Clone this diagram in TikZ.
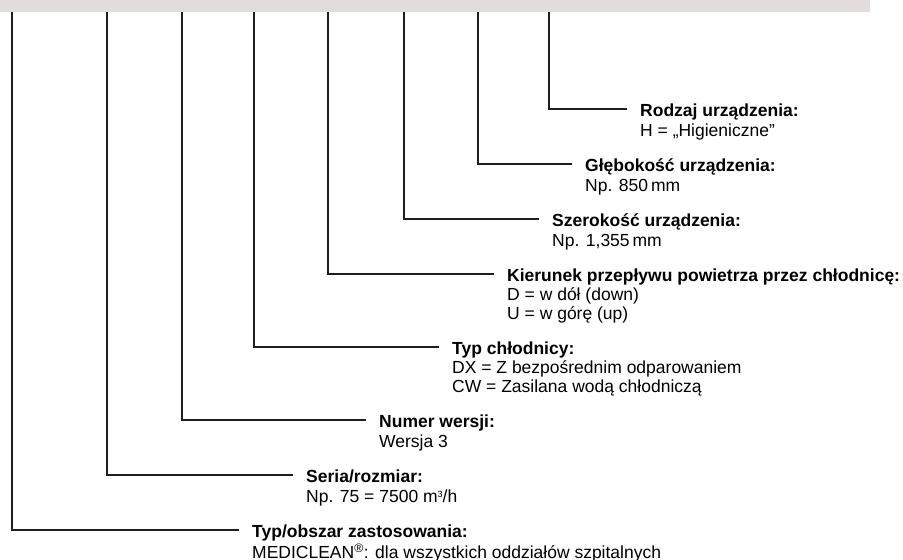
\documentclass[tikz,border=0pt]{standalone}
\usepackage{fontspec}
\setmainfont{Liberation Sans}
\usetikzlibrary{positioning}
\begin{document}
\begin{tikzpicture}[x=1pt,y=-1pt,
	lead/.style={line width=1.4pt, cLead},
	title/.style={anchor=base west, inner sep=0pt, font=\bfseries\fontsize{17.5}{19}\selectfont},
	desc/.style={anchor=north west, inner sep=0pt, align=left, font=\fontsize{17.5}{19}\selectfont,
		execute at begin node=\strut}]
	\definecolor{cBar}{HTML}{E2DDDA}
	\definecolor{cLead}{HTML}{1E1E1E}

	\useasboundingbox (0,0) rectangle (903,560);
	\fill[cBar] (0,0) rectangle (870,12);

	% end points of the leaders
	\coordinate (eRodzaj) at (627,109);
	\coordinate (eGlebokosc) at (572,164);
	\coordinate (eSzerokosc) at (539,219);
	\coordinate (eKierunek) at (494,274);
	\coordinate (eTyp) at (439,347);
	\coordinate (eWersja) at (366,420);
	\coordinate (eSeria) at (293,475);
	\coordinate (eObszar) at (239,530);

	\node[title] (tRodzaj) at ([shift={(13,7)}]eRodzaj) {Rodzaj urządzenia:};
	\node[desc] (dRodzaj) at ([yshift=-6.7pt]tRodzaj.base west) {H = „Higieniczne”};

	\node[title] (tGlebokosc) at ([shift={(13,7)}]eGlebokosc) {Głębokość urządzenia:};
	\node[desc] (dGlebokosc) at ([yshift=-6.7pt]tGlebokosc.base west) {Np. 850\,mm};

	\node[title] (tSzerokosc) at ([shift={(13,7)}]eSzerokosc) {Szerokość urządzenia:};
	\node[desc] (dSzerokosc) at ([yshift=-6.7pt]tSzerokosc.base west) {Np. 1,355\,mm};

	\node[title] (tKierunek) at ([shift={(13,7)}]eKierunek) {Kierunek przepływu powietrza przez chłodnicę:};
	\node[desc] (dKierunek) at ([yshift=-6.7pt]tKierunek.base west) {D = w dół (down)\\U = w górę (up)};

	\node[title] (tTyp) at ([shift={(13,7)}]eTyp) {Typ chłodnicy:};
	\node[desc] (dTyp) at ([yshift=-6.7pt]tTyp.base west) {DX = Z bezpośrednim odparowaniem\\CW = Zasilana wodą chłodniczą};

	\node[title] (tWersja) at ([shift={(13,7)}]eWersja) {Numer wersji:};
	\node[desc] (dWersja) at ([yshift=-6.7pt]tWersja.base west) {Wersja 3};

	\node[title] (tSeria) at ([shift={(13,7)}]eSeria) {Seria/rozmiar:};
	\node[desc] (dSeria) at ([yshift=-6.7pt]tSeria.base west) {Np. 75 = 7500 m\raisebox{0.55ex}{\fontsize{9}{9}\selectfont 3}/h};

	\node[title] (tObszar) at ([shift={(13,7)}]eObszar) {Typ/obszar zastosowania:};
	\node[desc] (dObszar) at ([yshift=-6.7pt]tObszar.base west) {MEDICLEAN\textsuperscript{®}: dla wszystkich oddziałów szpitalnych};

	% leaders from the bar down to the labels
	\draw[lead] (549,12) |- (eRodzaj);
	\draw[lead] (478,12) |- (eGlebokosc);
	\draw[lead] (404,12) |- (eSzerokosc);
	\draw[lead] (328,12) |- (eKierunek);
	\draw[lead] (254,12) |- (eTyp);
	\draw[lead] (182,12) |- (eWersja);
	\draw[lead] (107,12) |- (eSeria);
	\draw[lead] (12,12) |- (eObszar);
\end{tikzpicture}
\end{document}
